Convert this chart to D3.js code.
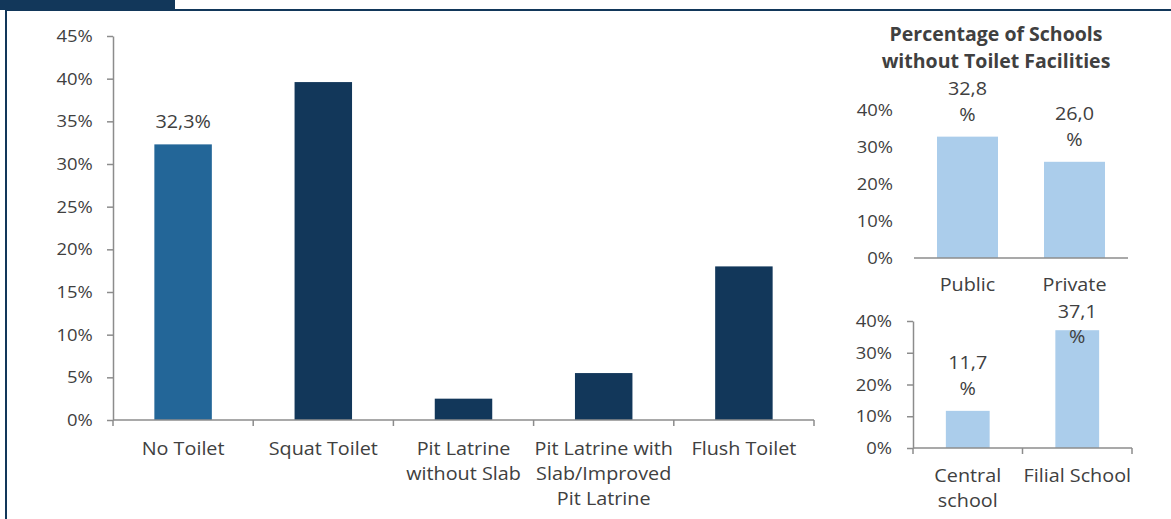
<!DOCTYPE html>
<html><head><meta charset="utf-8">
<script src="https://cdn.jsdelivr.net/npm/d3@7"></script>
<style>
html,body{margin:0;padding:0;background:#fff;}
svg text{font-family:"Open Sans",sans-serif;fill:#404040;}
</style></head>
<body><svg id="c" width="1171" height="519"></svg>
<script>
// ---- data ----
const mainCategories = [["No Toilet"],["Squat Toilet"],["Pit Latrine","without Slab"],["Pit Latrine with","Slab/Improved","Pit Latrine"],["Flush Toilet"]];
const mainValues = [32.3, 39.6, 2.5, 5.5, 18.0];
const mainLabels = ["32,3%", null, null, null, null];
const mainTicks = [0,5,10,15,20,25,30,35,40,45];

const ownershipCategories = [["Public"],["Private"]];
const ownershipValues = [32.8, 26.0];
const ownershipLabels = [["32,8","%"],["26,0","%"]];

const typeCategories = [["Central","school"],["Filial School"]];
const typeValues = [11.7, 37.1];
const typeLabels = [["11,7","%"],["37,1","%"]];

const insetTicks = [0,10,20,30,40];
const insetTitle = ["Percentage of Schools","without Toilet Facilities"];

// ---- drawing ----
const svg = d3.select("#c");
const NAVY = "#12375a", MID = "#236698", LIGHT = "#abcdeb", AX = "#8c8c8c";
const TICK_FS = 15.5, TICK_SX = 1.19;
const LAB_FS = 18.5, LAB_SX = 1.07;
svg.append("rect").attr("width",1171).attr("height",519).attr("fill","#fff");
svg.append("rect").attr("x",0).attr("y",0).attr("width",175).attr("height",10).attr("fill",NAVY);
svg.append("rect").attr("x",5).attr("y",9).attr("width",1166).attr("height",2).attr("fill",NAVY);
svg.append("rect").attr("x",5).attr("y",9).attr("width",2).attr("height",510).attr("fill",NAVY);

const pct = d => d + "%";

function addText(g, x, y, lines, fs, sx, lh, weight){
  const t = g.append("text")
    .attr("transform",`translate(${x},${y}) scale(${sx},1)`)
    .attr("text-anchor","middle")
    .style("font-size",fs+"px");
  if(weight) t.style("font-weight",weight);
  lines.forEach((l,i)=>t.append("tspan").attr("x",0).attr("dy", i===0?0:lh).text(l));
  return t;
}

function styleYAxis(ya, offset){
  ya.attr("font-family",null).attr("font-size",null);
  ya.selectAll(".tick text")
    .attr("x", -offset/TICK_SX).attr("dy",null).attr("y",5.5)
    .attr("transform",`scale(${TICK_SX},1)`)
    .style("font-size",TICK_FS+"px").attr("fill","#404040");
}

// main chart
{
  const x = d3.scaleBand().domain(d3.range(mainValues.length)).range([113,814]).paddingInner(0.59).paddingOuter(0.295);
  const y = d3.scaleLinear().domain([0,45]).range([420,36]);
  const g = svg.append("g");
  const ya = g.append("g").attr("transform","translate(113,0)")
    .call(d3.axisLeft(y).tickValues(mainTicks).tickFormat(pct).tickSize(6).tickSizeOuter(0));
  ya.select(".domain").attr("stroke",AX).attr("stroke-width",1.5);
  ya.selectAll(".tick line").attr("stroke",AX).attr("stroke-width",1.5);
  styleYAxis(ya, 20.3);

  g.selectAll("rect.bar").data(mainValues).join("rect").attr("class","bar")
    .attr("x",(d,i)=>x(i)).attr("width",x.bandwidth())
    .attr("y",d=>y(d)).attr("height",d=>y(0)-y(d))
    .attr("fill",(d,i)=>i===0?MID:NAVY);

  const step = x.step();
  const bounds = d3.range(mainValues.length+1).map(i=>113+i*step);
  g.append("line").attr("x1",113).attr("x2",814).attr("y1",y(0)).attr("y2",y(0)).attr("stroke",AX).attr("stroke-width",1.5);
  g.selectAll("line.xt").data(bounds).join("line").attr("class","xt")
    .attr("x1",d=>d).attr("x2",d=>d).attr("y1",y(0)).attr("y2",y(0)+6).attr("stroke",AX).attr("stroke-width",1.5);
  mainCategories.forEach((lines,i)=>{
    addText(g, x(i)+x.bandwidth()/2, 455, lines, LAB_FS, LAB_SX, 25);
  });
  mainLabels.forEach((l,i)=>{
    if(!l) return;
    addText(g, x(i)+x.bandwidth()/2, y(mainValues[i])-16, [l], LAB_FS, LAB_SX, 0);
  });
}

function inset(opts){
  const {cats, vals, labels, x0, x1, y0, y1, pad, yAxisLine, catY, minLabelY, lh} = opts;
  const x = d3.scaleBand().domain(d3.range(vals.length)).range([x0,x1]).paddingInner(pad).paddingOuter(pad/2);
  const y = d3.scaleLinear().domain([0,40]).range([y0,y1]);
  const g = svg.append("g");
  const ya = g.append("g").attr("transform",`translate(${x0},0)`)
    .call(d3.axisLeft(y).tickValues(insetTicks).tickFormat(pct).tickSize(yAxisLine?6:0).tickSizeOuter(0));
  ya.select(".domain").attr("stroke",yAxisLine?AX:"none").attr("stroke-width",1.5);
  ya.selectAll(".tick line").attr("stroke",AX).attr("stroke-width",1.5);
  styleYAxis(ya, 21);

  g.selectAll("rect.bar").data(vals).join("rect").attr("class","bar")
    .attr("x",(d,i)=>x(i)).attr("width",x.bandwidth())
    .attr("y",d=>y(d)).attr("height",d=>y(0)-y(d)).attr("fill",LIGHT);

  g.append("line").attr("x1",x0).attr("x2",x1).attr("y1",y(0)).attr("y2",y(0)).attr("stroke",AX).attr("stroke-width",1.5);
  if(yAxisLine){
    const bounds = d3.range(vals.length+1).map(i=>x0+i*x.step());
    g.selectAll("line.xt").data(bounds).join("line").attr("class","xt")
      .attr("x1",d=>d).attr("x2",d=>d).attr("y1",y(0)).attr("y2",y(0)+6).attr("stroke",AX).attr("stroke-width",1.5);
  }
  cats.forEach((lines,i)=>{
    addText(g, x(i)+x.bandwidth()/2, catY, lines, LAB_FS, LAB_SX, 25);
  });
  labels.forEach((lines,i)=>{
    const by = Math.max(y(vals[i])-41.5, minLabelY);
    addText(g, x(i)+x.bandwidth()/2, by, lines, LAB_FS, LAB_SX, lh);
  });
}

addText(svg, 996, 41, insetTitle, 19.5, 1.0, 26.5, "bold");

inset({cats:ownershipCategories, vals:ownershipValues, labels:ownershipLabels, x0:914, x1:1128, y0:258, y1:110, pad:0.43, yAxisLine:false, catY:291, minLabelY:60, lh:26});
inset({cats:typeCategories, vals:typeValues, labels:typeLabels, x0:913, x1:1132, y0:448, y1:321, pad:0.6, yAxisLine:true, catY:482, minLabelY:318, lh:25.5});
</script></body></html>
